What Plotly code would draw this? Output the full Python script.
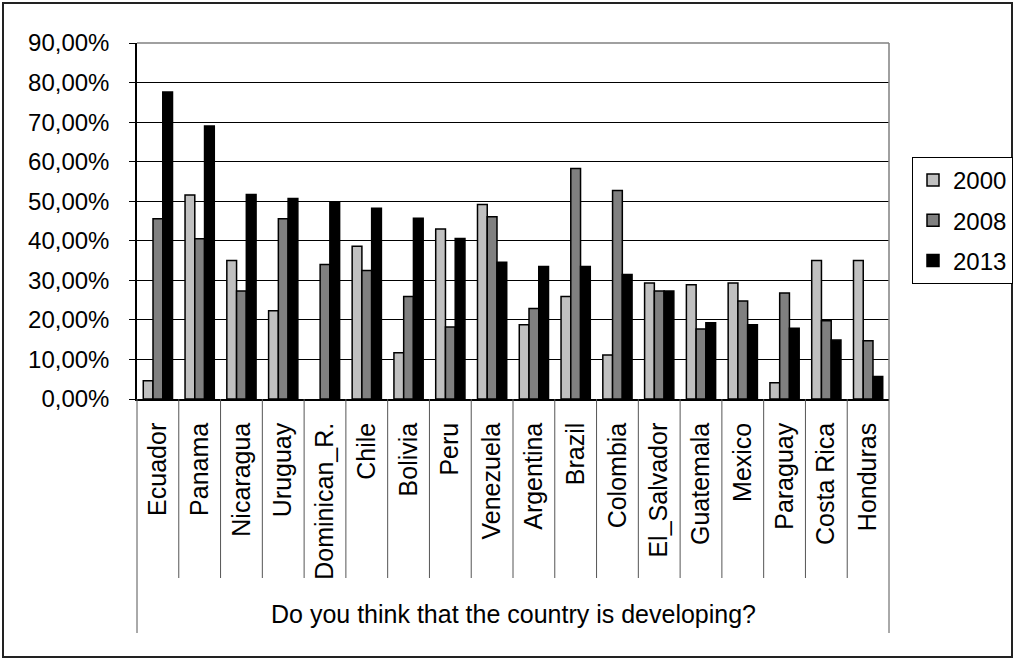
import plotly.graph_objects as go

# Survey share answering "yes", by country and survey year (percent)
countries = ["Ecuador", "Panama", "Nicaragua", "Uruguay", "Dominican_R.", "Chile",
             "Bolivia", "Peru", "Venezuela", "Argentina", "Brazil", "Colombia",
             "El_Salvador", "Guatemala", "Mexico", "Paraguay", "Costa Rica", "Honduras"]
years = ["2000", "2008", "2013"]
pct_2000 = [4.6, 51.6, 35.0, 22.3, None, 38.6, 11.7, 43.0, 49.2, 18.8, 25.9, 11.1,
            29.3, 28.9, 29.3, 4.1, 35.0, 35.0]
pct_2008 = [45.6, 40.5, 27.3, 45.6, 34.0, 32.5, 25.9, 18.2, 46.1, 22.9, 58.3, 52.7,
            27.3, 17.7, 24.8, 26.8, 19.8, 14.7]
pct_2013 = [77.6, 69.0, 51.7, 50.7, 49.7, 48.2, 45.7, 40.6, 34.6, 33.5, 33.5, 31.5,
            27.3, 19.3, 18.8, 17.9, 14.9, 5.7]
fills = ["#C0C0C0", "#808080", "#000000"]

W, H = 1015, 660
L, R, T, B = 137, 889, 43, 399  # plot-area edges in pixels
FONT = "Liberation Sans, Arial, sans-serif"


def px(x):
    return (x - L) / (R - L)


def py(y):
    return (B - y) / (B - T)


fig = go.Figure()
for i, (yr, vals) in enumerate(zip(years, [pct_2000, pct_2008, pct_2013])):
    fig.add_trace(go.Bar(
        x=countries,
        y=[None if v is None else v / 100 for v in vals],
        name=yr,
        legendgroup=yr,
        marker=dict(color=fills[i], line=dict(color="#000000", width=1.5)),
    ))

n = len(countries)
shapes = []
# plot-area frame (top and right edges)
shapes.append(dict(type="line", xref="paper", yref="paper", x0=0, x1=1, y0=1, y1=1,
                   line=dict(color="#808080", width=1.5)))
shapes.append(dict(type="line", xref="paper", yref="paper", x0=1, x1=1, y0=0, y1=1,
                   line=dict(color="#808080", width=1.5)))
# category separators below the axis
for k in range(1, n):
    xp = k / n
    shapes.append(dict(type="line", xref="paper", yref="paper", x0=xp, x1=xp,
                       y0=0, y1=py(578), line=dict(color="#555555", width=1)))
# outer edges of the category label block
for xp in (0, 1):
    shapes.append(dict(type="line", xref="paper", yref="paper", x0=xp, x1=xp,
                       y0=0, y1=py(633), line=dict(color="#555555", width=1)))
# chart border
shapes.append(dict(type="rect", xref="paper", yref="paper",
                   x0=px(3), x1=px(1012), y0=py(657), y1=py(3),
                   line=dict(color="#222222", width=2)))

fig.update_layout(
    width=W, height=H,
    margin=dict(l=L, r=W - R, t=T, b=H - B, autoexpand=False),
    paper_bgcolor="white", plot_bgcolor="white",
    font=dict(family=FONT, size=24, color="#000000"),
    separators=",.",
    barmode="group", bargap=0.3, bargroupgap=0,
    showlegend=True,
    legend=dict(
        x=px(912), y=py(157), xanchor="left", yanchor="top",
        bordercolor="#000000", borderwidth=1, bgcolor="white",
        font=dict(family=FONT, size=24, color="#000000"),
        traceorder="grouped", tracegroupgap=6,
    ),
    xaxis=dict(
        type="category", showline=True, linecolor="#000000", linewidth=1.5,
        ticks="", showgrid=False, tickangle=-90,
        tickfont=dict(family=FONT, size=25, color="#000000"),
        ticklabelstandoff=12,
    ),
    yaxis=dict(
        range=[0, 0.9], dtick=0.1, tickformat=".2%",
        showline=True, linecolor="#000000", linewidth=1.5,
        ticks="outside", ticklen=6, tickcolor="#000000",
        showgrid=True, gridcolor="#000000", gridwidth=1, zeroline=False,
        tickfont=dict(family=FONT, size=24, color="#000000"),
        ticklabelstandoff=15,
    ),
    shapes=shapes,
    annotations=[dict(
        text="Do you think that the country is developing?",
        xref="paper", yref="paper", x=0.5, y=py(614),
        xanchor="center", yanchor="middle", showarrow=False,
        font=dict(family=FONT, size=25, color="#000000"),
    )],
)

fig.write_html("out.html")
